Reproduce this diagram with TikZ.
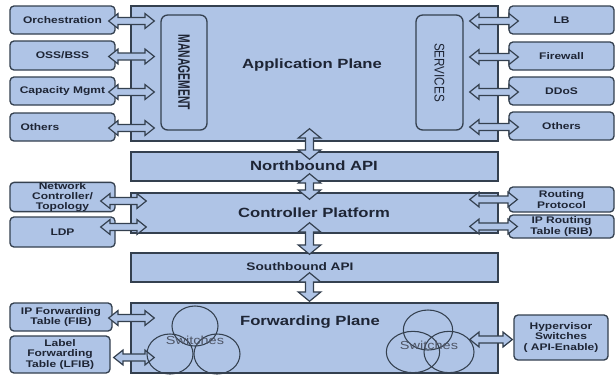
\documentclass[tikz,border=0pt]{standalone}
\usepackage{fontspec}
\setmainfont{Liberation Sans}[FakeStretch=1.25]
\usetikzlibrary{calc, fit, shapes.geometric}
\definecolor{planeblue}{HTML}{AFC4E6}
\definecolor{edgeslate}{HTML}{34404F}
\definecolor{textnavy}{HTML}{1E2535}
\definecolor{swgray}{HTML}{4E5566}

\begin{document}
\begin{tikzpicture}[
  x=0.75pt, y=-0.75pt,
  % layer boxes
  plane/.style={draw=edgeslate, fill=planeblue, line width=1.1pt, inner sep=0pt},
  planetitle/.style={font=\fontsize{10}{12}\selectfont\bfseries, text=textnavy, inner sep=0pt},
  % small boxes on both sides
  sidebox/.style={draw=edgeslate, fill=planeblue, line width=1pt, rounded corners=3pt,
                  inner sep=0pt, align=center, text=textnavy, minimum width=78.75pt,
                  minimum height=21pt, font=\fontsize{7.2}{7.6}\selectfont\bfseries},
  % tall boxes inside the application plane
  tallbox/.style={draw=edgeslate, fill=planeblue, line width=1pt, rounded corners=5pt, inner sep=0pt},
  tallname/.style={rotate=-90, text=textnavy, inner sep=0pt},
  % switch bubbles
  swbubble/.style={ellipse, draw=edgeslate, line width=0.8pt, inner sep=0pt},
  swname/.style={text=swgray, font=\fontsize{8.7}{10}\selectfont, inner sep=0pt},
  % hollow double arrows: head length, head half width, shaft half width
  fatarr/.style n args={3}{draw=edgeslate, fill=planeblue, line width=0.9pt,
    to path={let \p1=(\tikztostart), \p2=(\tikztotarget) in
      -- ($(\p1)!#1!(\p2)!#2!90:(\p2)$)
      -- ($(\p1)!#1!(\p2)!#3!90:(\p2)$)
      -- ($(\p2)!#1!(\p1)!#3!-90:(\p1)$)
      -- ($(\p2)!#1!(\p1)!#2!-90:(\p1)$)
      -- (\p2)
      -- ($(\p2)!#1!(\p1)!#2!90:(\p1)$)
      -- ($(\p2)!#1!(\p1)!#3!90:(\p1)$)
      -- ($(\p1)!#1!(\p2)!#3!-90:(\p2)$)
      -- ($(\p1)!#1!(\p2)!#2!-90:(\p2)$)
      -- cycle}},
  hfat/.style={fatarr={7pt}{5.6pt}{2.6pt}},
  vfat/.style={fatarr={7pt}{8.5pt}{3pt}},
]
\useasboundingbox[fill=white] (0,0) rectangle (616,376);

% ── layers ─────────────────────────────────────────
\node[plane, fit={(131,6) (498,141)}] (app) {};
\node[planetitle] (apptitle) at (312,65) {Application Plane};
\node[plane, fit={(131,152) (498,181)}] (nb) {};
\node[planetitle] (nbtitle) at (314,166) {Northbound API};
\node[plane, fit={(131,193) (498,233)}] (ctrl) {};
\node[planetitle] (ctrltitle) at (314,213) {Controller Platform};
\node[plane, fit={(131,253) (498,282)}] (sb) {};
\node[planetitle, font=\fontsize{8.2}{10}\selectfont\bfseries] (sbtitle) at (300,267) {Southbound API};
\node[plane, fit={(131,303) (498,373)}] (fwd) {};
\node[planetitle] (fwdtitle) at (310,322) {Forwarding Plane};

% ── management / services ──────────────────────────
\node[tallbox, fit={(161,15) (207,130)}] (mgmt) {};
\node[tallname, font=\fontsize{6.2}{7}\selectfont\bfseries] (mgmtname) at (mgmt.center)
  {\scalebox{1}[2]{MANAGEMENT}};
\node[tallbox, fit={(416,15) (463,130)}] (svc) {};
\node[tallname, font=\fontsize{7}{8}\selectfont] (svcname) at (svc.center)
  {\scalebox{1}[1.5]{SERVICES}};

% ── side boxes, application plane ──────────────────
\node[sidebox] (orch) at (62.5,20) {Orchestration};
\node[sidebox, minimum height=21.75pt] (oss) at (62.5,55.5) {OSS/BSS};
\node[sidebox] (capm) at (62.5,91) {Capacity Mgmt};
\node[sidebox, text width=63pt, align=left] (othl) at (62.5,127) {Others};
\node[sidebox] (lb) at (561.5,20) {LB};
\node[sidebox] (fw) at (561.5,56) {Firewall};
\node[sidebox] (ddos) at (561.5,91) {DDoS};
\node[sidebox] (othr) at (561.5,126) {Others};

% ── side boxes, controller ─────────────────────────
\node[sidebox] (netc) at (62.5,197) {Network\\Controller/\\Topology};
\node[sidebox, minimum height=22.5pt] (ldp) at (62.5,232) {LDP};
\node[sidebox, minimum height=18.75pt] (rp) at (561.5,199.5) {Routing\\Protocol};
\node[sidebox, minimum height=17.25pt] (rib) at (561.5,226.5) {IP Routing\\Table (RIB)};

% ── side boxes, forwarding ─────────────────────────
\node[sidebox, minimum width=76.5pt] (fib) at (61,317) {IP Forwarding\\Table (FIB)};
\node[sidebox, minimum width=75pt, minimum height=27.75pt] (lfib) at (60,354.5)
  {Label\\Forwarding\\Table (LFIB)};
\node[sidebox, minimum width=70.5pt, minimum height=33.75pt] (hyp) at (561,337.5)
  {Hypervisor\\Switches\\( API-Enable)};

% ── arrows ─────────────────────────────────────────
\foreach \b in {orch, oss, capm, othl} {
  \draw[hfat] ($(\b.east)+(-7,1)$) to ($(mgmt.west |- \b.east)+(-6,1)$);
}
\foreach \b in {lb, fw, ddos, othr} {
  \draw[hfat] ($(svc.east |- \b.west)+(6,1)$) to ($(\b.west)+(10,1)$);
}
\foreach \b/\d in {netc/4, ldp/-5} {
  \draw[hfat] ($(\b.east)+(-15,\d)$) to ($(ctrl.west |- \b.east)+(16,\d)$);
}
\foreach \b in {rp, rib} {
  \draw[hfat] ($(ctrl.east |- \b.west)+(-29,0)$) to ($(\b.west)+(9,0)$);
}
\draw[hfat] ($(fib.east)+(-4,1)$) to ($(fwd.west |- fib.east)+(24,1)$);
\draw[hfat] ($(lfib.east)+(3,3)$) to ($(fwd.west |- lfib.east)+(24,3)$);
\draw[hfat] ($(fwd.east |- hyp.west)+(-29,2)$) to ($(hyp.west)+(-1,2)$);

\foreach \a/\b/\s/\t in {app/nb/-13/8, nb/ctrl/-8/7, ctrl/sb/-11/2, sb/fwd/-10/-1} {
  \draw[vfat] ($(\a.south)+(-5,\s)$) to ($(\b.north)+(-5,\t)$);
}

% ── switches ───────────────────────────────────────
\node[swbubble, minimum width=34.5pt, minimum height=30pt] (swl1) at (195,326) {};
\node[swbubble, minimum width=34.5pt, minimum height=30pt] (swl2) at (170,354) {};
\node[swbubble, minimum width=34.5pt, minimum height=30pt] (swl3) at (217,354) {};
\node[swname] (swlname) at (195,340) {Switches};
\node[swbubble, minimum width=37pt, minimum height=30pt] (swr1) at (428,330) {};
\node[swbubble, minimum width=40pt, minimum height=31pt] (swr2) at (413,352) {};
\node[swbubble, minimum width=37.5pt, minimum height=31pt] (swr3) at (449,352) {};
\node[swname] (swrname) at (429,345) {Switches};

\end{tikzpicture}
\end{document}
